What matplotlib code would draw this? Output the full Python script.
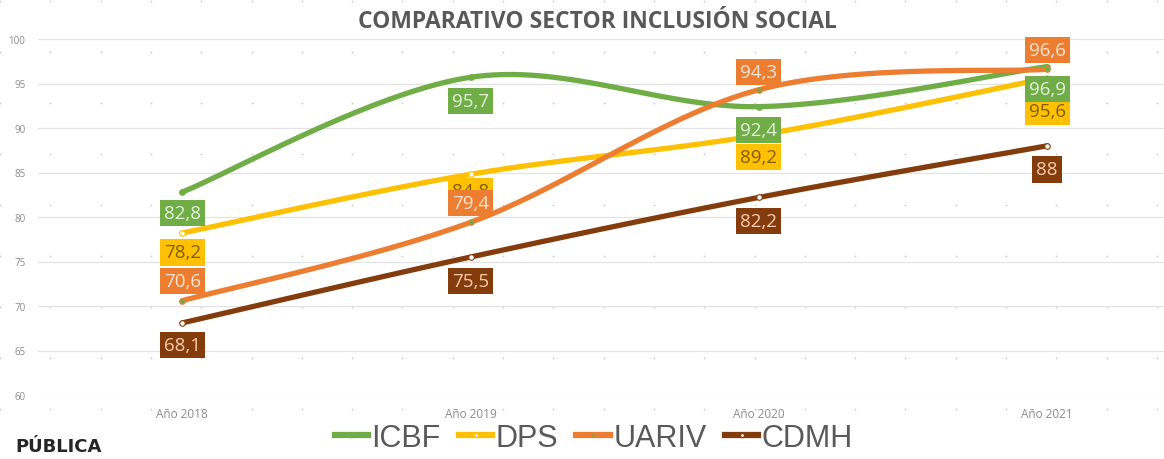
import numpy as np
import matplotlib
matplotlib.use("Agg")
import matplotlib.pyplot as plt
from matplotlib.lines import Line2D

# Data
years = ["Año 2018", "Año 2019", "Año 2020", "Año 2021"]
icbf = [82.8, 95.7, 92.4, 96.9]
dps = [78.2, 84.8, 89.2, 95.6]
uariv = [70.6, 79.4, 94.3, 96.6]
cdmh = [68.1, 75.5, 82.2, 88]

series = [
    ("ICBF", icbf, "#70AD47", "#E2F0D9", "#70AD47"),
    ("DPS", dps, "#FFC000", "#7F6000", "white"),
    ("UARIV", uariv, "#ED7D31", "#FBE5D6", "#70AD47"),
    ("CDMH", cdmh, "#843C0C", "#F8CBAD", "white"),
]
# label offsets in points (vertical), style only
label_dy = {
    "ICBF": [-15, -17, -17, -16],
    "DPS": [-14, -12, -16, -24],
    "UARIV": [14, 14, 13, 14],
    "CDMH": [-16, -17, -17, -17],
}


def smooth(xs, ys, n=40):
    # Excel-like smoothed line: Catmull-Rom through the points as cubic Bezier
    xs = np.asarray(xs, float)
    ys = np.asarray(ys, float)
    px = np.concatenate([[xs[0]], xs, [xs[-1]]])
    py = np.concatenate([[ys[0]], ys, [ys[-1]]])
    t = np.linspace(0, 1, n)
    out_x, out_y = [], []
    for i in range(1, len(px) - 2):
        p0 = np.array([px[i], py[i]])
        p3 = np.array([px[i + 1], py[i + 1]])
        c1 = p0 + (p3 - np.array([px[i - 1], py[i - 1]])) / 6
        c2 = p3 - (np.array([px[i + 2], py[i + 2]]) - p0) / 6
        b = ((1 - t) ** 3)[:, None] * p0 + (3 * (1 - t) ** 2 * t)[:, None] * c1 \
            + (3 * (1 - t) * t ** 2)[:, None] * c2 + (t ** 3)[:, None] * p3
        out_x.extend(b[:, 0])
        out_y.extend(b[:, 1])
    return out_x, out_y


fig = plt.figure(figsize=(11.64, 4.6), dpi=100)

# faint dotted background pattern
bg = fig.add_axes([0, 0, 1, 1], zorder=-1)
bg.set_xlim(0, 1164)
bg.set_ylim(460, 0)
bg.axis("off")
gx, gy = np.meshgrid(np.arange(0, 1164, 50.3), np.arange(2, 460, 51.0))
bg.scatter(gx.ravel(), gy.ravel(), s=1.5, color="#c8c8c8", linewidths=0)

ax = fig.add_axes([38 / 1164, 64 / 460, 1 - 38 / 1164, 356 / 460])
ax.set_facecolor("none")
x = np.arange(len(years))

for name, vals, col, tcol, mcol in series:
    sx, sy = smooth(x, vals)
    ax.plot(sx, sy, color=col, lw=3.8, solid_capstyle="round", zorder=3)
    ax.plot(x, vals, ls="none", marker="o", ms=4, mfc=mcol, mec=col, mew=0.8, zorder=4)

# labels: DPS first so UARIV covers its 2019 label
for name, vals, col, tcol, mcol in [series[1], series[0], series[3], series[2]]:
    for i, v in enumerate(vals):
        txt = f"{v:g}".replace(".", ",")
        ax.annotate(txt, (x[i], v), xytext=(0, label_dy[name][i]), textcoords="offset points",
                    ha="center", va="center", fontsize=13.5, family="Open Sans", color=tcol,
                    bbox=dict(boxstyle="square,pad=0.22", fc=col, ec="none"), zorder=5)

ax.set_xlim(-0.5, 3.405)
ax.set_ylim(60, 100)
ax.set_yticks(range(60, 101, 5))
ax.set_xticks(x)
ax.set_xticklabels(years)
ax.tick_params(axis="both", length=0, colors="#8c8c8c")
ax.tick_params(axis="y", labelsize=7, pad=9)
ax.tick_params(axis="x", labelsize=8.5, pad=9)
for lab in ax.get_xticklabels() + ax.get_yticklabels():
    lab.set_family("Open Sans")
ax.grid(axis="y", color="#e3e3e3", lw=0.9)
for s in ax.spines.values():
    s.set_visible(False)

fig.text(0.513, 0.953, "COMPARATIVO SECTOR INCLUSIÓN SOCIAL", ha="center", va="center",
         fontsize=16.5, fontweight="bold", family="Open Sans", color="#595959")

handles = [Line2D([0], [0], color=c, lw=4.5, marker="o", ms=3, mfc=m, mec=c)
           for _, _, c, _, m in series]
fig.legend(handles, [s[0] for s in series], loc="center", bbox_to_anchor=(0.51, 0.046),
           ncol=4, frameon=False, prop={"family": "Liberation Sans", "size": 22},
           labelcolor="#595959", handlelength=1.1, handletextpad=0.1, columnspacing=0.6)

fig.text(0.013, 0.028, "PÚBLICA", ha="left", va="center", fontsize=13, fontweight="bold",
         family="DejaVu Sans", color="#262626")

fig.savefig("out.png", dpi=100)
